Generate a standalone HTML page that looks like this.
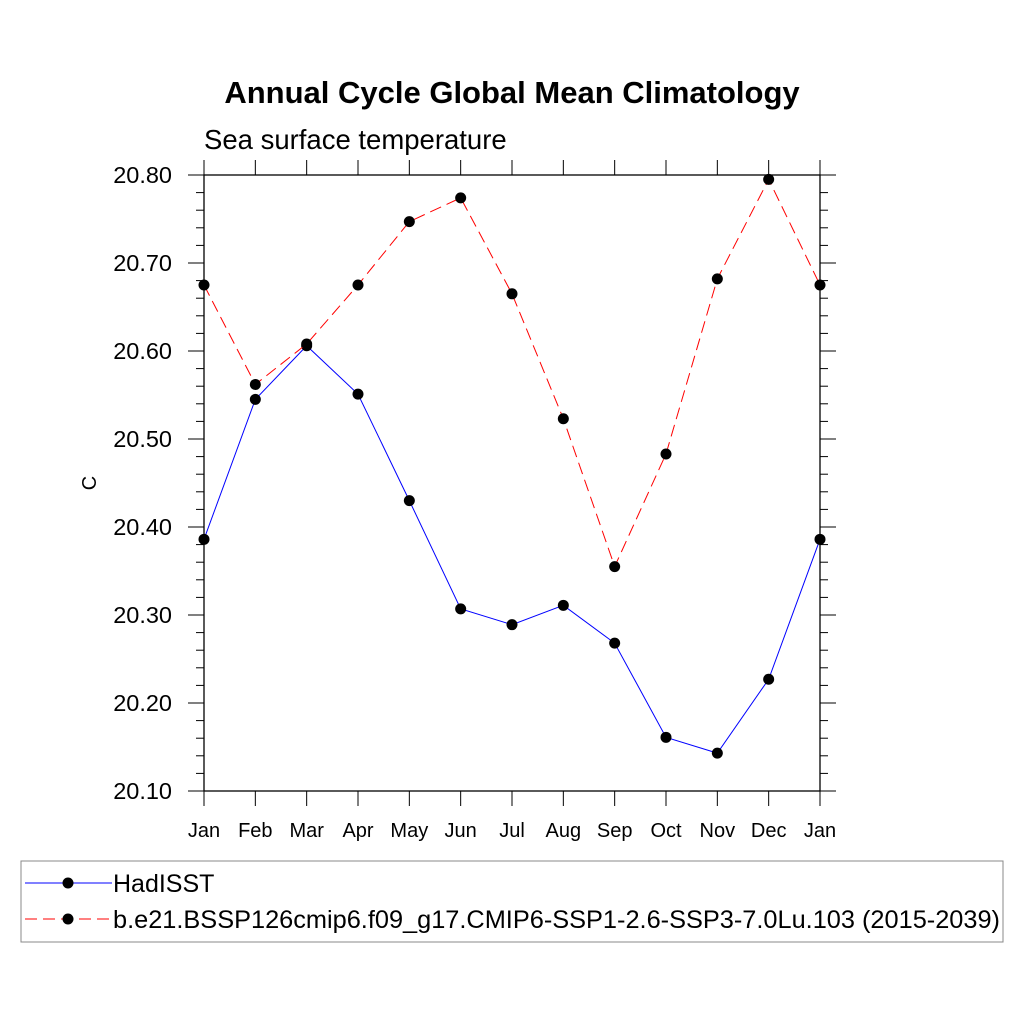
<!DOCTYPE html>
<html><head><meta charset="utf-8"><style>body{margin:0;background:#fff}svg text{font-family:"Liberation Sans",sans-serif}</style></head>
<body>
<svg id="c" width="1024" height="1024" xmlns="http://www.w3.org/2000/svg">
<text x="512" y="103" text-anchor="middle" font-size="31" font-weight="bold">Annual Cycle Global Mean Climatology</text>
<text x="204" y="149" font-size="27.5">Sea surface temperature</text>
<text x="96" y="483" font-size="20" transform="rotate(-90 96 483)" text-anchor="middle">C</text>
<g id="axes"></g><g id="series"></g>
<rect x="21" y="861" width="982" height="81" fill="none" stroke="#888" stroke-width="1"/>
<g>
<line x1="25" y1="883" x2="112" y2="883" stroke="#0000ff" stroke-width="1"/><circle cx="68" cy="883" r="5.5"/>
<text x="113" y="892" font-size="25">HadISST</text></g>
<g>
<line x1="25" y1="919" x2="112" y2="919" stroke="#ff0000" stroke-width="1" stroke-dasharray="12,6"/><circle cx="68" cy="919" r="5.5"/>
<text x="113" y="928" font-size="25" textLength="887" lengthAdjust="spacingAndGlyphs">b.e21.BSSP126cmip6.f09_g17.CMIP6-SSP1-2.6-SSP3-7.0Lu.103 (2015-2039)</text></g>
</svg>
<script>
const months=["Jan","Feb","Mar","Apr","May","Jun","Jul","Aug","Sep","Oct","Nov","Dec","Jan"];
const hadisst=[20.386,20.545,20.606,20.551,20.430,20.307,20.289,20.311,20.268,20.161,20.143,20.227,20.386];
const model=[20.675,20.562,20.608,20.675,20.747,20.774,20.665,20.523,20.355,20.483,20.682,20.795,20.675];
const yTicks=[20.10,20.20,20.30,20.40,20.50,20.60,20.70,20.80];
const X0=204,X1=820,Y0=791,Y1=175,ymin=20.1,ymax=20.8;
const xs=i=>X0+i*(X1-X0)/12, ys=v=>Y0-(v-ymin)/(ymax-ymin)*(Y0-Y1);
const NS="http://www.w3.org/2000/svg";
function mk(t,a,p){const e=document.createElementNS(NS,t);for(const k in a)e.setAttribute(k,a[k]);p.appendChild(e);return e;}
const ax=document.getElementById('axes');
const box=mk('rect',{x:X0,y:Y1,width:X1-X0,height:Y0-Y1,fill:'none',stroke:'#000','stroke-width':1.3},ax);


for(let v=ymin;v<=ymax+1e-6;v+=0.02){const y=ys(v);const maj=Math.abs(Math.round(v*10)-v*10)<1e-4;const L=maj?16:8;
mk('line',{x1:X0-L,x2:X0,y1:y,y2:y,stroke:'#000'},ax);mk('line',{x1:X1,x2:X1+L,y1:y,y2:y,stroke:'#000'},ax);}
yTicks.forEach(v=>{const t=mk('text',{x:172,y:ys(v)+8,'text-anchor':'end','font-size':23.5},ax);t.textContent=v.toFixed(2);

});
months.forEach((m,i)=>{const x=xs(i);mk('line',{x1:x,x2:x,y1:Y0,y2:Y0+15,stroke:'#000'},ax);mk('line',{x1:x,x2:x,y1:Y1-15,y2:Y1,stroke:'#000'},ax);
const t=mk('text',{x:x,y:837,'text-anchor':'middle','font-size':20},ax);t.textContent=m;

});
const sg=document.getElementById('series');
function draw(vals,col,dash,name){const g=mk('g',{},sg);


const pl=mk('polyline',{points:vals.map((v,i)=>xs(i)+','+ys(v)).join(' '),fill:'none',stroke:col,'stroke-width':1},g);if(dash)pl.setAttribute('stroke-dasharray','12,6');
vals.forEach((v,i)=>{const c=mk('circle',{cx:xs(i),cy:ys(v),r:5.5,fill:'#000'},g);

});}
draw(hadisst,'#0000ff',false,'hadisst-series');
draw(model,'#ff0000',true,'model-series');
</script>
</body></html>
